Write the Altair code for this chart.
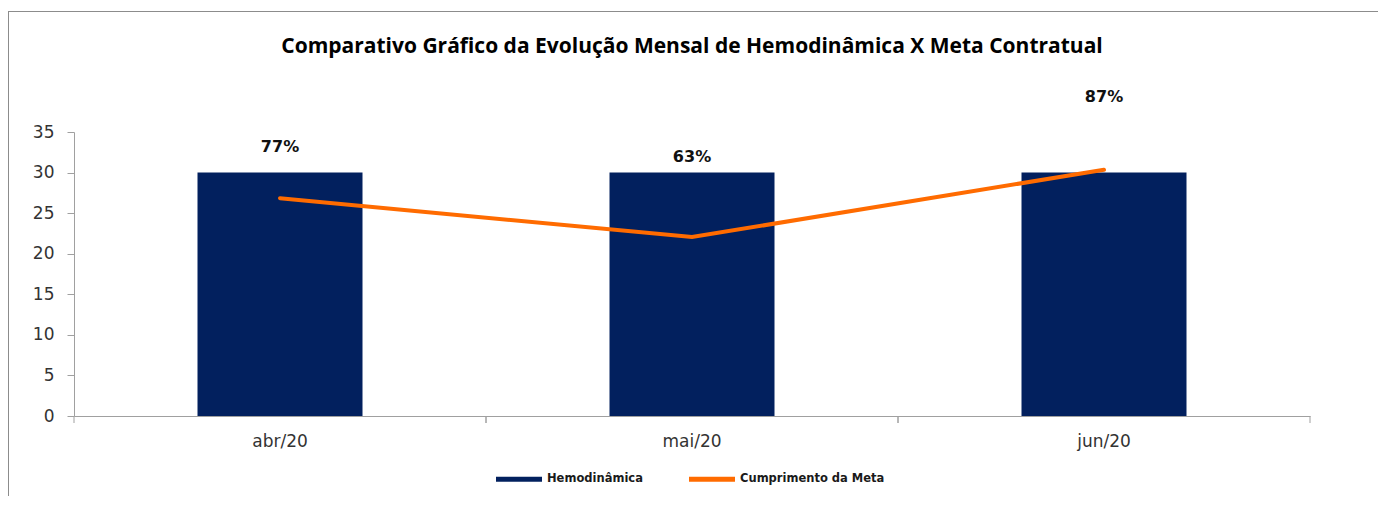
import altair as alt
import pandas as pd

# ---- data ----
months = ["abr/20", "mai/20", "jun/20"]
hemodinamica = [30, 30, 30]
cumprimento_meta = [0.767, 0.63, 0.867]
series_names = ["Hemodinâmica", "Cumprimento da Meta"]
left_ticks = [0, 5, 10, 15, 20, 25, 30, 35]
right_ticks = [0, 0.1, 0.2, 0.3, 0.4, 0.5, 0.6, 0.7, 0.8, 0.9, 1.0]
title_text = "Comparativo Gráfico da Evolução Mensal de Hemodinâmica X Meta Contratual"

# styling (label vertical offsets as placed in the original)
label_dy = [-51, -80, -73]

NAVY = "#02205E"
ORANGE = "#FF6B00"
AXIS_GRAY = "#a0a0a0"
LABEL_COLOR = "#333333"
FONT = "DejaVu Sans"

df = pd.DataFrame({
    "mes": months,
    "hemo": hemodinamica,
    "meta": cumprimento_meta,
    "serie": [series_names[0]] * len(months),
})

base = alt.Chart(df)

x_enc = alt.X(
    "mes:N", sort=months,
    scale=alt.Scale(paddingInner=0, paddingOuter=0),
    axis=alt.Axis(title=None, labelAngle=0, ticks=False, labelPadding=17,
                  domainColor=AXIS_GRAY, labelFont=FONT, labelFontSize=17,
                  labelColor=LABEL_COLOR),
)

bars = base.mark_bar(size=165).encode(
    x=x_enc,
    y=alt.Y("hemo:Q", stack=None, scale=alt.Scale(domain=[0, 35], nice=False),
            axis=alt.Axis(title=None, orient="left", values=left_ticks, grid=False,
                          domainColor=AXIS_GRAY, tickColor=AXIS_GRAY, tickSize=7,
                          labelPadding=13, labelFont=FONT, labelFontSize=17,
                          labelColor=LABEL_COLOR)),
    color=alt.Color("serie:N",
                    scale=alt.Scale(domain=series_names, range=[NAVY, ORANGE]),
                    legend=alt.Legend(title=None, orient="none", legendX=422, legendY=324,
                                      direction="horizontal",
                                      symbolType="M-1,-0.11L1,-0.11L1,0.11L-1,0.11Z",
                                      symbolSize=2116, symbolStrokeWidth=0,
                                      labelFont=FONT, labelFontWeight="bold",
                                      labelFontSize=11.5, labelColor="#1a1a1a",
                                      labelOffset=5, columnPadding=46, padding=0)),
)

y_pct = alt.Scale(domain=[0, 1], nice=False)

line = base.mark_line(color=ORANGE, strokeWidth=4, strokeCap="round").encode(
    x=x_enc,
    y=alt.Y("meta:Q", scale=y_pct,
            axis=alt.Axis(title=None, orient="right", values=right_ticks, format=".0%",
                          grid=False, domainColor=AXIS_GRAY, tickColor=AXIS_GRAY,
                          tickSize=7, labelPadding=15, labelFont=FONT, labelFontSize=17,
                          labelColor=LABEL_COLOR)),
)

texts = [
    base.transform_filter(alt.datum.mes == m).mark_text(
        dy=d, font=FONT, fontSize=16, fontWeight="bold", color="#111111",
        baseline="middle").encode(
        x=x_enc,
        y=alt.Y("meta:Q", scale=y_pct, axis=None),
        text=alt.Text("meta:Q", format=".0%"),
    )
    for m, d in zip(months, label_dy)
]

pct_layer = alt.layer(line, *texts)

# category separator ticks on the x axis
tick_start = base.mark_rule(color=AXIS_GRAY).encode(
    x=alt.X("mes:N", sort=months, bandPosition=0), y=alt.value(284), y2=alt.value(291))
tick_end = base.mark_rule(color=AXIS_GRAY).encode(
    x=alt.X("mes:N", sort=months, bandPosition=1), y=alt.value(284), y2=alt.value(291))

# outer chart frame (decoration)
frame_df = pd.DataFrame({"k": [0]})
frame_left = alt.Chart(frame_df).mark_rule(color="#8c8c8c").encode(
    x=alt.value(-65.5), y=alt.value(-121), y2=alt.value(380))
frame_top = alt.Chart(frame_df).mark_rule(color="#8c8c8c").encode(
    y=alt.value(-120.5), x=alt.value(-66), x2=alt.value(1304))

chart = alt.layer(
    frame_left, frame_top, bars, pct_layer, tick_start, tick_end
).resolve_scale(y="independent").properties(
    width=1236, height=284,
    title=alt.Title(title_text, font="Open Sans", fontSize=21, fontWeight="bold",
                    anchor="middle", offset=-46, color="#000000"),
    padding={"left": 66, "top": 124, "right": 68, "bottom": 80},
    autosize=alt.AutoSizeParams(type="none"),
).configure_view(stroke=None)

chart.save("out.html", embed_options={"renderer": "svg", "actions": False})
